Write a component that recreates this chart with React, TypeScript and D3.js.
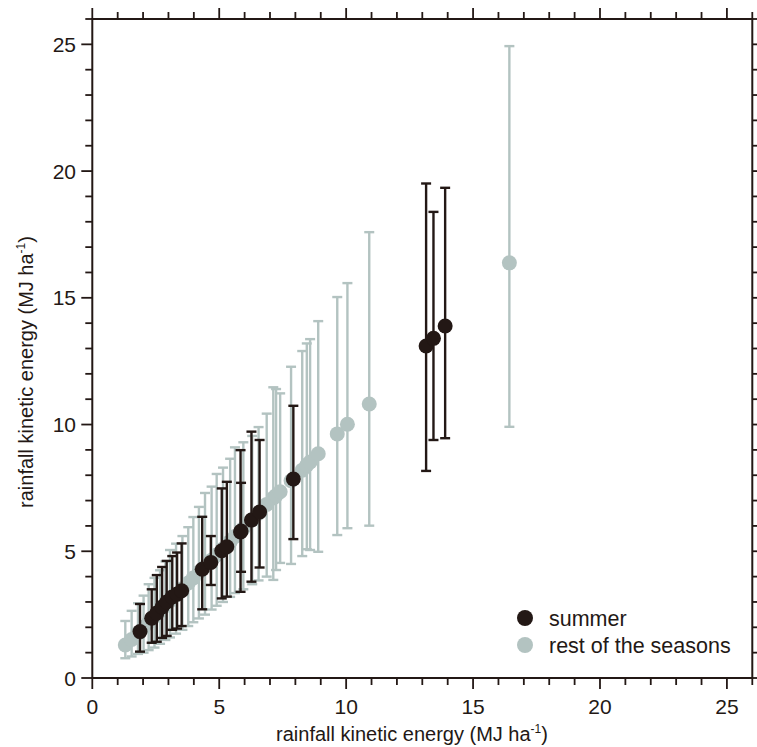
import React from "react";
import * as d3 from "d3";

// summer: [x, y, lower, upper]
const summerX = [1.88, 2.34, 2.54, 2.75, 2.93, 3.15, 3.34, 3.52, 4.33, 4.67, 5.10, 5.30, 5.84, 5.86, 6.27, 6.59, 7.92, 13.15, 13.44, 13.90];
const summerY = [1.83, 2.36, 2.56, 2.80, 3.00, 3.20, 3.31, 3.44, 4.29, 4.56, 5.02, 5.18, 5.76, 5.80, 6.23, 6.55, 7.85, 13.10, 13.40, 13.89];
const summerLo = [1.04, 1.39, 1.43, 1.58, 1.66, 1.90, 1.95, 2.05, 2.71, 3.67, 3.14, 3.21, 3.40, 4.19, 3.80, 4.36, 5.48, 8.17, 9.39, 9.46];
const summerHi = [2.92, 3.50, 4.06, 4.38, 4.62, 4.81, 4.95, 5.31, 6.36, 5.60, 7.48, 7.74, 8.99, 7.70, 9.72, 9.39, 10.74, 19.51, 18.39, 19.34];

const restX = [1.30, 1.55, 1.80, 2.02, 2.22, 2.45, 2.67, 2.88, 3.06, 3.30, 3.55, 3.78, 3.98, 4.20, 4.44, 4.70, 4.90, 5.15, 5.43, 5.62, 5.95, 6.30, 6.55, 6.87, 7.13, 7.24, 7.40, 7.83, 8.27, 8.45, 8.58, 8.90, 9.65, 10.05, 10.91, 16.43];
const restY = [1.30, 1.52, 1.78, 2.00, 2.20, 2.42, 2.65, 2.85, 3.05, 3.28, 3.52, 3.75, 3.95, 4.17, 4.40, 4.65, 4.85, 5.10, 5.38, 5.58, 5.90, 6.25, 6.50, 6.85, 7.10, 7.20, 7.35, 7.78, 8.20, 8.40, 8.52, 8.85, 9.63, 10.01, 10.81, 16.38];
const restLo = [0.78, 0.85, 0.95, 1.00, 1.10, 1.20, 1.35, 1.50, 1.60, 1.75, 1.90, 2.05, 2.20, 2.35, 2.50, 2.70, 2.85, 3.00, 3.20, 3.35, 3.50, 3.70, 3.85, 4.00, 3.87, 4.26, 4.54, 4.50, 4.81, 5.08, 5.05, 4.98, 5.64, 5.91, 6.01, 9.91];
const restHi = [2.25, 2.65, 2.95, 3.25, 3.70, 3.95, 4.25, 4.60, 5.05, 5.30, 5.60, 5.95, 6.35, 6.75, 7.30, 7.55, 8.05, 8.30, 8.65, 9.10, 9.30, 9.55, 9.90, 10.43, 11.47, 11.40, 11.23, 12.28, 12.90, 13.20, 13.37, 14.08, 15.03, 15.58, 17.59, 24.93];

const majorTicks = [0, 5, 10, 15, 20, 25];
const minorTicks = d3.range(0, 27, 1);
const seriesNames = ["summer", "rest of the seasons"];

const DARK = "#231815";
const GRAY = "#b3c3c1";

export default function App() {
  const W = 757, H = 747;
  const x = d3.scaleLinear().domain([0, 26]).range([92.3, 752.3]);
  const y = d3.scaleLinear().domain([0, 26]).range([678, 19]);
  const font = "'Liberation Sans', Arial, sans-serif";

  const series = [
    { xs: restX, ys: restY, lo: restLo, hi: restHi, color: GRAY },
    { xs: summerX, ys: summerY, lo: summerLo, hi: summerHi, color: DARK },
  ];

  const title = (
    <>
      rainfall kinetic energy (MJ ha<tspan fontSize={12} dy={-8}>-1</tspan><tspan dy={8}>)</tspan>
    </>
  );

  return (
    <svg width={W} height={H} style={{ position: "absolute", left: 0, top: 0 }}>
      <rect width={W} height={H} fill="#fff" />
      {series.map((s, si) => (
        <g key={si}>
          {s.xs.map((xv, i) => (
            <g key={"e" + i} stroke={s.color} strokeWidth={2.4}>
              <line x1={x(xv)} x2={x(xv)} y1={y(s.lo[i])} y2={y(s.hi[i])} />
              <line x1={x(xv) - 5} x2={x(xv) + 5} y1={y(s.lo[i])} y2={y(s.lo[i])} />
              <line x1={x(xv) - 5} x2={x(xv) + 5} y1={y(s.hi[i])} y2={y(s.hi[i])} />
            </g>
          ))}
          {s.xs.map((xv, i) => (
            <circle key={"c" + i} cx={x(xv)} cy={y(s.ys[i])} r={7.5} fill={s.color} />
          ))}
        </g>
      ))}
      {/* frame */}
      <rect x={x(0)} y={y(26)} width={x(26) - x(0)} height={y(0) - y(26)} fill="none" stroke={DARK} strokeWidth={2} />
      {/* ticks */}
      <g stroke={DARK} strokeWidth={1.8}>
        {minorTicks.map((t) => {
          const len = t % 5 === 0 ? 11 : 7;
          return (
            <g key={t}>
              <line x1={x(t)} x2={x(t)} y1={y(0)} y2={y(0) + len} />
              <line x1={x(t)} x2={x(t)} y1={y(26)} y2={y(26) - len} />
              <line x1={x(0)} x2={x(0) - len} y1={y(t)} y2={y(t)} />
              <line x1={x(26)} x2={x(26) + len} y1={y(t)} y2={y(t)} />
            </g>
          );
        })}
      </g>
      <g fontFamily={font} fontSize={21} fill={DARK}>
        {majorTicks.map((t) => (
          <text key={"x" + t} x={x(t)} y={714} textAnchor="middle">{t}</text>
        ))}
        {majorTicks.map((t) => (
          <text key={"y" + t} x={76} y={y(t) + 7.5} textAnchor="end">{t}</text>
        ))}
      </g>
      <g fontFamily={font} fontSize={20} fill={DARK}>
        <text x={412} y={741} textAnchor="middle">{title}</text>
        <text transform={`translate(33, 372) rotate(-90)`} textAnchor="middle">{title}</text>
      </g>
      {/* legend */}
      <g fontFamily={font} fontSize={21.5} fill={DARK}>
        {seriesNames.map((n, i) => (
          <g key={n}>
            <circle cx={525} cy={618 + i * 27} r={8} fill={i === 0 ? DARK : GRAY} />
            <text x={549} y={625.5 + i * 27}>{n}</text>
          </g>
        ))}
      </g>
    </svg>
  );
}
